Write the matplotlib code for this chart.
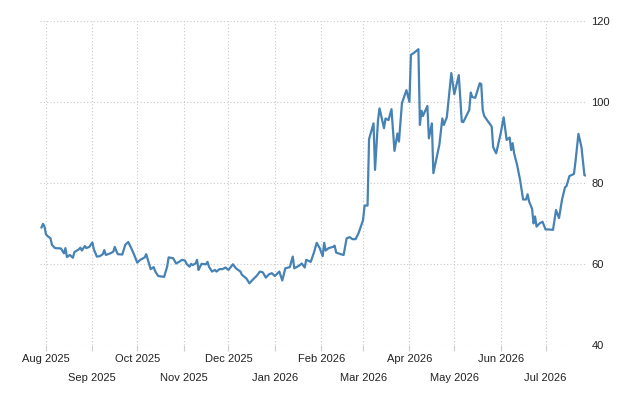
import matplotlib

matplotlib.use("Agg")
import matplotlib.pyplot as plt
import matplotlib.dates as mdates
import numpy as np

plt.rcParams["font.family"] = ["Liberation Sans", "DejaVu Sans"]

# values
dates = [
    "2025-07-29", "2025-07-30", "2025-07-31", "2025-08-01", "2025-08-02", "2025-08-04",
    "2025-08-05", "2025-08-07", "2025-08-11", "2025-08-13", "2025-08-14", "2025-08-15",
    "2025-08-17", "2025-08-19", "2025-08-20", "2025-08-23", "2025-08-24", "2025-08-25",
    "2025-08-27", "2025-08-28", "2025-08-30", "2025-09-01", "2025-09-02", "2025-09-04",
    "2025-09-06", "2025-09-08", "2025-09-09", "2025-09-10", "2025-09-13", "2025-09-15",
    "2025-09-16", "2025-09-17", "2025-09-18", "2025-09-21", "2025-09-23", "2025-09-25",
    "2025-09-27", "2025-09-29", "2025-10-01", "2025-10-03", "2025-10-06", "2025-10-07",
    "2025-10-10", "2025-10-12", "2025-10-13", "2025-10-15", "2025-10-19", "2025-10-21",
    "2025-10-22", "2025-10-25", "2025-10-27", "2025-10-29", "2025-10-31", "2025-11-02",
    "2025-11-03", "2025-11-05", "2025-11-06", "2025-11-07", "2025-11-09", "2025-11-10",
    "2025-11-11", "2025-11-12", "2025-11-13", "2025-11-16", "2025-11-17", "2025-11-18",
    "2025-11-20", "2025-11-22", "2025-11-23", "2025-11-25", "2025-11-27", "2025-11-29",
    "2025-12-01", "2025-12-04", "2025-12-06", "2025-12-09", "2025-12-10", "2025-12-13",
    "2025-12-15", "2025-12-17", "2025-12-20", "2025-12-22", "2025-12-24", "2025-12-26",
    "2025-12-28", "2025-12-30", "2026-01-01", "2026-01-04", "2026-01-06", "2026-01-08",
    "2026-01-11", "2026-01-13", "2026-01-14", "2026-01-17", "2026-01-19", "2026-01-21",
    "2026-01-22", "2026-01-25", "2026-01-27", "2026-01-29", "2026-01-31", "2026-02-02",
    "2026-02-03", "2026-02-04", "2026-02-06", "2026-02-09", "2026-02-10", "2026-02-11",
    "2026-02-14", "2026-02-16", "2026-02-18", "2026-02-20", "2026-02-22", "2026-02-24",
    "2026-02-26", "2026-03-01", "2026-03-02", "2026-03-04", "2026-03-05", "2026-03-08",
    "2026-03-09", "2026-03-11", "2026-03-12", "2026-03-15", "2026-03-16", "2026-03-18",
    "2026-03-20", "2026-03-22", "2026-03-24", "2026-03-25", "2026-03-27", "2026-03-30",
    "2026-04-01", "2026-04-02", "2026-04-04", "2026-04-07", "2026-04-08", "2026-04-09",
    "2026-04-10", "2026-04-13", "2026-04-14", "2026-04-16", "2026-04-17", "2026-04-21",
    "2026-04-23", "2026-04-24", "2026-04-26", "2026-04-29", "2026-05-01", "2026-05-04",
    "2026-05-06", "2026-05-07", "2026-05-11", "2026-05-12", "2026-05-13", "2026-05-15",
    "2026-05-18", "2026-05-19", "2026-05-20", "2026-05-21", "2026-05-26", "2026-05-27",
    "2026-05-29", "2026-06-01", "2026-06-03", "2026-06-05", "2026-06-07", "2026-06-08",
    "2026-06-09", "2026-06-10", "2026-06-12", "2026-06-14", "2026-06-16", "2026-06-18",
    "2026-06-19", "2026-06-20", "2026-06-22", "2026-06-23", "2026-06-24", "2026-06-25",
    "2026-06-27", "2026-06-29", "2026-07-01", "2026-07-03", "2026-07-06", "2026-07-08",
    "2026-07-10", "2026-07-12", "2026-07-14", "2026-07-15", "2026-07-17", "2026-07-20",
    "2026-07-21", "2026-07-23", "2026-07-25", "2026-07-27", "2026-07-28",
]
values = [
    69.1, 70.0, 69.3, 67.4, 67.0, 66.4,
    64.8, 64.0, 63.9, 62.7, 64.0, 61.8,
    62.3, 61.6, 63.0, 63.7, 64.1, 63.4,
    64.5, 64.0, 64.3, 65.4, 63.7, 61.9,
    62.0, 62.5, 63.5, 62.3, 62.7, 63.1,
    64.3, 63.3, 62.5, 62.4, 64.8, 65.5,
    64.0, 62.3, 60.4, 61.1, 61.7, 62.5,
    58.8, 59.3, 58.3, 57.1, 56.9, 59.4,
    61.7, 61.5, 60.2, 60.6, 61.1, 60.9,
    60.1, 59.4, 60.1, 59.8, 60.2, 61.1,
    58.6, 59.4, 60.1, 60.0, 60.6, 59.4,
    58.2, 58.6, 58.2, 58.8, 58.8, 59.2,
    58.6, 60.0, 59.0, 58.2, 57.4, 56.5,
    55.3, 56.1, 57.2, 58.2, 58.0, 56.7,
    57.5, 57.8, 57.1, 58.2, 56.0, 59.0,
    59.3, 61.9, 59.0, 59.6, 60.2, 59.2,
    61.1, 60.6, 62.7, 65.3, 64.0, 62.0,
    65.3, 63.4, 64.0, 64.3, 64.6, 62.9,
    62.5, 62.3, 66.4, 66.7, 66.2, 66.2,
    67.7, 70.9, 74.5, 74.5, 90.9, 94.8,
    83.3, 95.6, 98.5, 93.6, 96.0, 95.6,
    98.3, 88.0, 92.3, 90.3, 99.8, 103.0,
    100.1, 111.7, 112.2, 113.1, 94.4, 97.9,
    96.6, 99.1, 91.1, 94.8, 82.5, 89.5,
    96.0, 94.4, 96.3, 107.2, 102.0, 106.7,
    95.2, 95.1, 98.1, 102.4, 101.3, 101.1,
    104.7, 104.5, 98.1, 96.6, 94.0, 88.9,
    87.4, 92.3, 96.3, 90.7, 91.3, 88.2,
    89.9, 87.4, 84.5, 80.8, 76.0, 76.0,
    77.3, 75.5, 73.7, 70.1, 71.8, 69.3,
    70.1, 70.5, 68.6, 68.6, 68.5, 73.4,
    71.4, 75.9, 79.0, 79.3, 81.8, 82.3,
    85.3, 92.2, 89.0, 82.0, 81.9,
]

x = np.array(dates, dtype="datetime64[D]")
y = np.array(values)

fig = plt.figure(figsize=(6.4, 4.0), dpi=100)
ax = fig.add_axes([0.0625, 0.1368, 0.853, 0.81])

ax.plot(x, y, color="#4682b4", linewidth=1.6, zorder=3)

ax.set_ylim(40, 120)
ax.set_yticks([40, 60, 80, 100, 120])
ax.set_xlim(np.datetime64("2025-07-28"), np.datetime64("2026-07-28"))

# alternating month labels on two rows
ax.xaxis.set_major_locator(mdates.MonthLocator(bymonth=[2, 4, 6, 8, 10, 12]))
ax.xaxis.set_minor_locator(mdates.MonthLocator(bymonth=[1, 3, 5, 7, 9, 11]))
ax.xaxis.set_major_formatter(mdates.DateFormatter("%b %Y"))
ax.xaxis.set_minor_formatter(mdates.DateFormatter("%b %Y"))
ax.tick_params(axis="x", which="major", length=4, width=0.8, color="#cccccc",
               pad=2, labelsize=8, labelcolor="#222222")
ax.tick_params(axis="x", which="minor", length=4, width=0.8, color="#cccccc",
               pad=16, labelsize=8, labelcolor="#222222")

ax.yaxis.tick_right()
ax.tick_params(axis="y", length=0, pad=4, labelsize=8, labelcolor="#222222")

for s in ax.spines.values():
    s.set_visible(False)

ax.grid(True, which="both", axis="x", color="#c8c8c8", linestyle=(0, (1, 2)), linewidth=0.8)
ax.grid(True, which="major", axis="y", color="#c8c8c8", linestyle=(0, (1, 2)), linewidth=0.8)
ax.set_axisbelow(True)

fig.savefig("out.png", dpi=100)
